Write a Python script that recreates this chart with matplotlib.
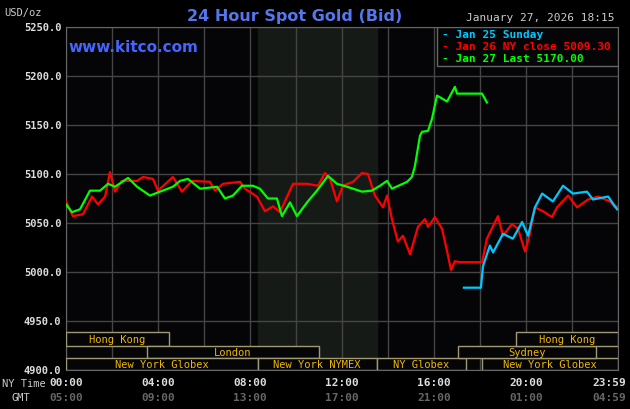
import matplotlib
matplotlib.use("Agg")
import matplotlib.pyplot as plt
from matplotlib.patches import Rectangle

green_h = [0,0.26,0.61,1.04,1.48,1.83,2.13,2.70,3.09,3.65,4.09,4.65,4.96,5.30,5.83,6.57,6.91,7.26,7.65,8.13,
           8.43,8.78,9.17,9.39,9.74,10.04,10.48,10.91,11.39,11.78,12.22,12.87,13.30,13.65,13.96,14.17,14.83,15.04,15.17,15.39,
           15.48,15.74,15.91,16.13,16.57,16.91,17.0,18.09,18.30]
green_v = [5069,5061,5064,5083,5083,5090,5087,5096,5087,5078,5082,5087,5093,5095,5085,5087,5075,5078,5088,5088,
           5085,5075,5075,5057,5071,5057,5071,5083,5098,5090,5087,5082,5083,5088,5093,5085,5092,5097,5108,5139,
           5143,5144,5156,5180,5174,5189,5182,5182,5173]
red_h = [0,0.30,0.74,1.13,1.39,1.70,1.91,2.13,2.43,3.09,3.35,3.78,4.00,4.65,5.04,5.48,6.26,6.48,6.83,7.57,
         7.78,8.30,8.65,9.00,9.30,9.87,10.48,10.96,11.26,11.48,11.78,12.04,12.48,12.87,13.13,13.43,13.78,13.96,14.17,14.43,
         14.65,14.96,15.30,15.61,15.74,16.04,16.35,16.57,16.74,16.91,17.13,18.09,18.30,18.78,19.00,19.39,19.65,19.96,20.17,20.39,
         20.74,21.13,21.35,21.83,22.22,22.70,23.13,23.65,23.87,24.0]
red_v = [5072,5057,5059,5077,5069,5077,5102,5082,5093,5093,5097,5095,5083,5097,5082,5093,5092,5083,5090,5092,
         5085,5077,5062,5067,5061,5090,5090,5088,5101,5095,5072,5088,5092,5101,5100,5078,5066,5078,5054,5031,
         5037,5018,5046,5054,5046,5056,5044,5021,5002,5011,5010,5010,5034,5057,5037,5049,5044,5021,5039,5066,
         5062,5056,5066,5078,5066,5074,5077,5072,5066,5067]
cyan_h = [17.30,18.04,18.13,18.43,18.57,19.00,19.43,19.83,20.09,20.39,20.70,21.17,21.61,22.04,22.65,22.91,23.57,23.96]
cyan_v = [4984,4984,5006,5027,5020,5039,5034,5051,5037,5066,5080,5072,5088,5080,5082,5074,5077,5064]

yticks = [4900,4950,5000,5050,5100,5150,5200,5250]
ny_labels = ["00:00","04:00","08:00","12:00","16:00","20:00","23:59"]
gmt_labels = ["05:00","09:00","13:00","17:00","21:00","01:00","04:59"]
label_pos = [0,4,8,12,16,20,24]
sessions = [("Hong Kong",0,4.48,2),("London",3.52,11.0,1),("New York Globex",0,8.33,0),
            ("New York NYMEX",8.33,13.5,0),("NY Globex",13.5,17.4,0),("New York Globex",18.1,24,0),
            ("Sydney",17.04,23.04,1),("Hong Kong",19.57,24,2)]

mono = "DejaVu Sans Mono"
fig = plt.figure(figsize=(6.3,4.1), dpi=100, facecolor="black")
ax = fig.add_axes([66/630, 39/410, 552/630, 343/410])
ax.set_facecolor("#050507")
ax.set_xlim(0,24); ax.set_ylim(4900,5250)
ax.axvspan(8.33,13.5,color="#161a16",zorder=0)
for x in range(0,25,2):
    ax.axvline(x,color="#444444",lw=1,zorder=1)
for y in yticks:
    ax.axhline(y,color="#444444",lw=1,zorder=1)
for s in ax.spines.values():
    s.set_color("#666666")
ax.set_xticks([]); ax.set_yticks([])
for y in yticks:
    ax.text(-0.2,y,f"{y:.1f}",ha="right",va="center",color="#dddddd",fontsize=7.5,family=mono,fontweight="bold",clip_on=False)

ax.plot(red_h,red_v,color="#ff0000",lw=1.6,zorder=3)
ax.plot(cyan_h,cyan_v,color="#00c8ff",lw=1.6,zorder=4)
ax.plot(green_h,green_v,color="#00ff00",lw=1.6,zorder=5)

rows = [(4900,4912.5),(4912.5,4925),(4925,4939)]
for name,a,b,r in sessions:
    y0,y1 = rows[r]
    ax.add_patch(Rectangle((a,y0),b-a,y1-y0,facecolor="#050507",edgecolor="#a09a70",lw=1,zorder=6))
for name,a,b,r in sessions:
    y0,y1 = rows[r]
    ax.text((a+b)/2,(y0+y1)/2,name,ha="center",va="center",color="#f0b800",fontsize=7.5,family=mono,zorder=7)

ax.add_patch(Rectangle((16.13,5210),7.87,40,facecolor="#050507",edgecolor="#666666",lw=1,zorder=6))
leg = [("- Jan 25 Sunday","#00c8ff"),("- Jan 26 NY close 5009.30","#ff0000"),("- Jan 27 Last 5170.00","#00ff00")]
for i,(t,c) in enumerate(leg):
    ax.text(16.35,5243-i*12.5,t,color=c,fontsize=8,family=mono,va="center",zorder=7,fontweight="bold")

fig.text(295/630,1-16/410,"24 Hour Spot Gold (Bid)",color="#5577ee",fontsize=11.5,ha="center",va="center",fontweight="bold")
fig.text(540/630,1-18/410,"January 27, 2026 18:15",color="#cccccc",fontsize=8,ha="center",va="center",family=mono)
fig.text(4/630,1-13/410,"USD/oz",color="#cccccc",fontsize=7.5,ha="left",va="center",family=mono)
fig.text(68/630,1-48/410,"www.kitco.com",color="#4466ff",fontsize=11,ha="left",va="center",fontweight="bold")
fig.text(2/630,1-384/410,"NY Time",color="#cccccc",fontsize=7.5,ha="left",va="center",family=mono)
fig.text(11/630,1-398/410,"GMT",color="#cccccc",fontsize=7.5,ha="left",va="center",family=mono)
for p,n,g in zip(label_pos,ny_labels,gmt_labels):
    if p == 24:
        xf, ha = 626/630, "right"
    else:
        xf, ha = (66+p*23)/630, "center"
    fig.text(xf,1-383/410,n,color="#dddddd",fontsize=8,ha=ha,va="center",family=mono,fontweight="bold")
    fig.text(xf,1-398/410,g,color="#666666",fontsize=8,ha=ha,va="center",family=mono,fontweight="bold")

fig.savefig("out.png",dpi=100,facecolor="black")
